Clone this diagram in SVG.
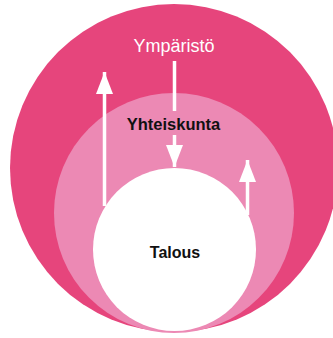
<svg xmlns="http://www.w3.org/2000/svg" width="333" height="338" viewBox="0 0 333 338">
<style>
.lbl{font-family:"Liberation Sans",Arial,sans-serif;text-anchor:middle}
.white{fill:#ffffff}
.dark{fill:#111111;font-weight:bold}
.arrow{stroke:#ffffff;stroke-width:3.5;fill:none}
</style>
<defs>
<marker id="head" markerUnits="userSpaceOnUse" markerWidth="22" markerHeight="17" refX="22" refY="8.5" orient="auto" viewBox="0 0 22 17">
<path d="M0,0 L22,8.5 L0,17 Z" fill="#ffffff"/>
</marker>
</defs>
<rect width="333" height="338" fill="#ffffff"/>
<g id="ymparisto">
<circle cx="174" cy="168" r="164" fill="#e6457c"/>
<text class="lbl white" x="174" y="52" font-size="18">Ympäristö</text>
</g>
<g id="yhteiskunta">
<circle cx="174" cy="213" r="120" fill="#ec89b4"/>
<text class="lbl dark" x="173.5" y="130" font-size="16.5">Yhteiskunta</text>
</g>
<g id="talous">
<circle cx="174.5" cy="249.5" r="81.5" fill="#ffffff"/>
<text class="lbl dark" x="175" y="258" font-size="16">Talous</text>
</g>
<g id="connectors">
<line class="arrow" x1="104.5" y1="206" x2="104.5" y2="72" marker-end="url(#head)"/>
<line class="arrow" x1="174.5" y1="61" x2="174.5" y2="111"/>
<line class="arrow" x1="174.5" y1="135" x2="174.5" y2="167" marker-end="url(#head)"/>
<line class="arrow" x1="247.5" y1="215" x2="247.5" y2="160" marker-end="url(#head)"/>
</g>
</svg>
